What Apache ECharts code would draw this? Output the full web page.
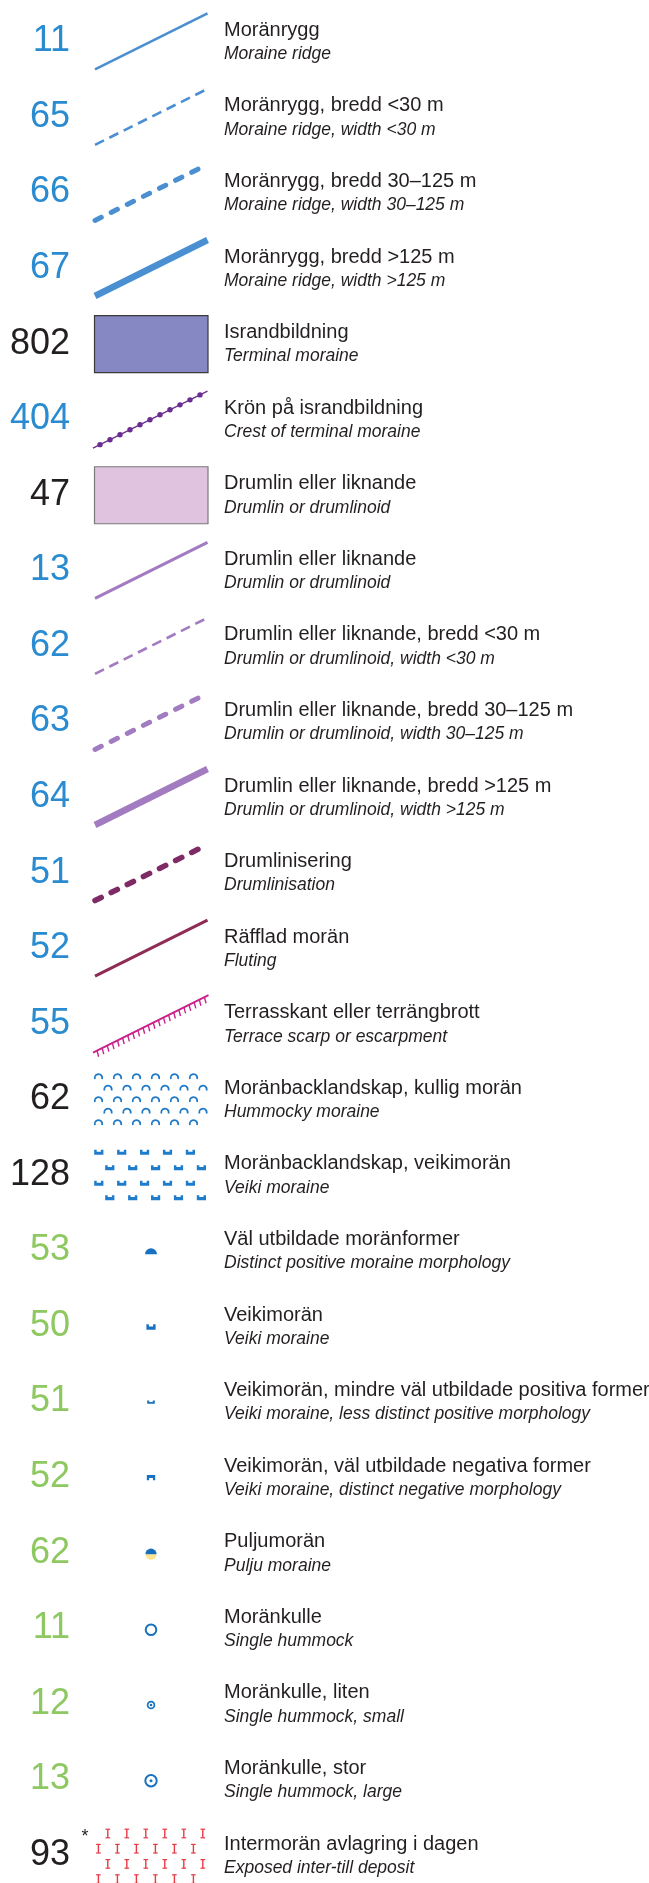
<!DOCTYPE html>
<html>
<head>
<meta charset="utf-8">
<script src="https://cdn.jsdelivr.net/npm/echarts@6/dist/echarts.min.js"></script>
<style>
html,body{margin:0;padding:0;background:#fff;}
#chart{width:649px;height:1883px;}
</style>
</head>
<body>
<div id="chart"></div>
<script>
// ---- legend data ----
const codes = ['11','65','66','67','802','404','47','13','62','63','64','51','52','55','62','128','53','50','51','52','62','11','12','13','93'];
const kinds = ['line','line','line','line','area','line','area','line','line','line','line','line','line','line','area','area','point','point','point','point','point','point','point','point','area'];
const namesSv = ['Moränrygg','Moränrygg, bredd <30 m','Moränrygg, bredd 30–125 m','Moränrygg, bredd >125 m','Israndbildning','Krön på israndbildning','Drumlin eller liknande','Drumlin eller liknande','Drumlin eller liknande, bredd <30 m','Drumlin eller liknande, bredd 30–125 m','Drumlin eller liknande, bredd >125 m','Drumlinisering','Räfflad morän','Terrasskant eller terrängbrott','Moränbacklandskap, kullig morän','Moränbacklandskap, veikimorän','Väl utbildade moränformer','Veikimorän','Veikimorän, mindre väl utbildade positiva former','Veikimorän, väl utbildade negativa former','Puljumorän','Moränkulle','Moränkulle, liten','Moränkulle, stor','Intermorän avlagring i dagen'];
const namesEn = ['Moraine ridge','Moraine ridge, width <30 m','Moraine ridge, width 30–125 m','Moraine ridge, width >125 m','Terminal moraine','Crest of terminal moraine','Drumlin or drumlinoid','Drumlin or drumlinoid','Drumlin or drumlinoid, width <30 m','Drumlin or drumlinoid, width 30–125 m','Drumlin or drumlinoid, width >125 m','Drumlinisation','Fluting','Terrace scarp or escarpment','Hummocky moraine','Veiki moraine','Distinct positive moraine morphology','Veiki moraine','Veiki moraine, less distinct positive morphology','Veiki moraine, distinct negative morphology','Pulju moraine','Single hummock','Single hummock, small','Single hummock, large','Exposed inter-till deposit'];
const symbols = ['ridge','ridgeNarrow','ridgeMedium','ridgeWide','terminalArea','crest','drumlinArea','drumlin','drumlinNarrow','drumlinMedium','drumlinWide','drumlinisation','fluting','terrace','hummocky','veikiField','positive','veiki','veikiLess','veikiNegative','pulju','hummock','hummockSmall','hummockLarge','interTill'];

// ---- styling ----
const TEXT = '#231f20';
const kindColor = {line:'#2a8bd0', area:'#231f20', point:'#8dc860'};
const BLUE_L = '#4b8fd3', PURPLE = '#a27bc0', SYMBLUE = '#1872c0';
const lineStyles = {
  ridge:{stroke:BLUE_L, w:2.6},
  ridgeNarrow:{stroke:BLUE_L, w:2.6, dash:[10,6]},
  ridgeMedium:{stroke:BLUE_L, w:5, dash:[7,11], cap:'round'},
  ridgeWide:{stroke:BLUE_L, w:6.5},
  drumlin:{stroke:PURPLE, w:3},
  drumlinNarrow:{stroke:PURPLE, w:2.6, dash:[10,6]},
  drumlinMedium:{stroke:PURPLE, w:5, dash:[7,11], cap:'round'},
  drumlinWide:{stroke:PURPLE, w:6.5},
  drumlinisation:{stroke:'#7e2a64', w:5.5, dash:[7,11], cap:'round'},
  fluting:{stroke:'#8e2c55', w:3}
};
const FONT = '"Liberation Sans", Arial, Helvetica, sans-serif';
const NUM_RIGHT = 70, SYM_L = 95, SYM_R = 207.5, SYM_C = 151, TXT_L = 224, HALF = 28;

function renderItem(params, api) {
  const i = api.value(1);
  const yc = api.coord([0, i])[1];
  const X = x => api.coord([x, i])[0];
  const L = X(SYM_L), R = X(SYM_R), C = X(SYM_C);
  const ch = [];
  ch.push({type:'text', style:{text:codes[i], x:X(NUM_RIGHT), y:yc, align:'right', textAlign:'right', verticalAlign:'middle', textVerticalAlign:'middle', font:'36px ' + FONT, fill:kindColor[kinds[i]]}});
  ch.push({type:'text', style:{text:namesSv[i], x:X(TXT_L), y:yc-11, align:'left', textAlign:'left', verticalAlign:'middle', textVerticalAlign:'middle', font:'20px ' + FONT, fill:TEXT}});
  ch.push({type:'text', style:{text:namesEn[i], x:X(TXT_L), y:yc+13, align:'left', textAlign:'left', verticalAlign:'middle', textVerticalAlign:'middle', font:'italic 17.5px ' + FONT, fill:TEXT}});

  const s = symbols[i];
  const seg = {x1:L, y1:yc+HALF, x2:R, y2:yc-HALF};
  const along = t => [L + (R-L)*t, yc+HALF - 2*HALF*t];
  if (lineStyles[s]) {
    const ls = lineStyles[s];
    ch.push({type:'line', shape:seg, style:{stroke:ls.stroke, lineWidth:ls.w, lineDash:ls.dash||null, lineCap:ls.cap||'butt', fill:null}});
  } else if (s === 'terminalArea' || s === 'drumlinArea') {
    ch.push({type:'rect', shape:{x:L-0.5, y:yc-28, width:R-L+1, height:57}, style:{fill: s==='terminalArea' ? '#8688c3' : '#dfc3df', stroke: s==='terminalArea' ? '#3a3a3a' : '#7a7a7a', lineWidth:1.2}});
  } else if (s === 'crest') {
    const col = '#6b2d90';
    ch.push({type:'line', shape:{x1:L-2, y1:yc+HALF+1, x2:R, y2:yc-HALF}, style:{stroke:col, lineWidth:1.3}});
    for (let k = 0; k <= 10; k++) {
      const p = along((5 + 10*k)/(SYM_R-SYM_L));
      ch.push({type:'circle', shape:{cx:p[0], cy:p[1], r:2.7}, style:{fill:col}});
    }
  } else if (s === 'terrace') {
    const col = '#c9228c';
    ch.push({type:'line', shape:{x1:L-2, y1:yc+HALF+1, x2:R+1, y2:yc-HALF-0.5}, style:{stroke:col, lineWidth:2}});
    const len = Math.hypot(R-L, 2*HALF);
    const nx = (2*HALF)/len*0.6, ny = 1;
    const n = 22;
    for (let k = 0; k < n; k++) {
      const p = along((k + 0.4)/n);
      ch.push({type:'line', shape:{x1:p[0], y1:p[1], x2:p[0]+nx*6, y2:p[1]+ny*6}, style:{stroke:col, lineWidth:1.4}});
    }
  } else if (s === 'hummocky') {
    const col = '#2079c7';
    const dys = [-23, -11.5, 0, 11.5, 23];
    dys.forEach((dy, r) => {
      const x0 = r % 2 === 0 ? 98.5 : 108;
      for (let k = 0; k < 6; k++) {
        ch.push({type:'arc', shape:{cx:X(x0 + 19*k), cy:yc+dy+1.5, r:3.7, startAngle:Math.PI*0.9, endAngle:Math.PI*2.1}, style:{stroke:col, lineWidth:1.8, fill:null}});
      }
    });
  } else if (s === 'veikiField') {
    const dys = [-22.6, -7.2, 8.4, 22.8];
    dys.forEach((dy, r) => {
      const x0 = r % 2 === 0 ? 98.8 : 109.8;
      for (let k = 0; k < 5; k++) {
        ch.push(veikiShape(X(x0 + 22.9*k), yc+dy, 9.2, 5, false, '#1f7ccb', 0.62));
      }
    });
  } else if (s === 'positive') {
    ch.push({type:'sector', shape:{cx:C, cy:yc+3.8, r0:0, r:6, startAngle:Math.PI, endAngle:2*Math.PI}, style:{fill:SYMBLUE}});
  } else if (s === 'veiki') {
    ch.push(veikiShape(C, yc+1, 9.2, 5.6, false, SYMBLUE, 0.6));
  } else if (s === 'veikiLess') {
    ch.push(veikiShape(C, yc+0.5, 7.6, 3.2, false, SYMBLUE, 0.55));
  } else if (s === 'veikiNegative') {
    ch.push(veikiShape(C, yc+0.5, 8.4, 5.4, true, SYMBLUE, 0.55));
  } else if (s === 'pulju') {
    ch.push({type:'sector', shape:{cx:C, cy:yc+1.5, r0:0, r:5.6, startAngle:0, endAngle:Math.PI}, style:{fill:'#fbe68f'}});
    ch.push({type:'sector', shape:{cx:C, cy:yc+1.5, r0:0, r:5.6, startAngle:Math.PI, endAngle:2*Math.PI}, style:{fill:'#176fbb'}});
  } else if (s === 'hummock') {
    ch.push({type:'circle', shape:{cx:C, cy:yc+1.5, r:5.3}, style:{fill:null, stroke:SYMBLUE, lineWidth:2}});
  } else if (s === 'hummockSmall') {
    ch.push({type:'circle', shape:{cx:C, cy:yc+1.2, r:3.4}, style:{fill:null, stroke:SYMBLUE, lineWidth:1.7}});
    ch.push({type:'circle', shape:{cx:C, cy:yc+1.2, r:1.3}, style:{fill:SYMBLUE}});
  } else if (s === 'hummockLarge') {
    ch.push({type:'circle', shape:{cx:C, cy:yc+1.3, r:5.7}, style:{fill:null, stroke:SYMBLUE, lineWidth:2}});
    ch.push({type:'circle', shape:{cx:C, cy:yc+1.3, r:1.5}, style:{fill:SYMBLUE}});
  } else if (s === 'interTill') {
    const col = '#e63a44';
    const dys = [-21.5, -6.3, 8.9, 24.1];
    dys.forEach((dy, r) => {
      const x0 = r % 2 === 0 ? 107.8 : 98.4;
      for (let k = 0; k < 6; k++) {
        const cx = X(x0 + 19*k), cy = yc + dy;
        ch.push({type:'polyline', shape:{points:[[cx, cy-4.3],[cx, cy+4.3]]}, style:{stroke:col, lineWidth:1.4, fill:null}});
        ch.push({type:'polyline', shape:{points:[[cx-2.3, cy-4.3],[cx+2.3, cy-4.3]]}, style:{stroke:col, lineWidth:1.2, fill:null}});
        ch.push({type:'polyline', shape:{points:[[cx-2.3, cy+4.3],[cx+2.3, cy+4.3]]}, style:{stroke:col, lineWidth:1.2, fill:null}});
      }
    });
    ch.push({type:'text', style:{text:'*', x:X(85), y:yc-18, align:'center', textAlign:'center', verticalAlign:'middle', textVerticalAlign:'middle', font:'18px ' + FONT, fill:TEXT}});
  }
  return {type:'group', children:ch};
}

function veikiShape(cx, cy, w, h, inverted, color, barFrac) {
  const e = w*0.27, b = h*barFrac, sgn = inverted ? -1 : 1;
  const pts = [[-w/2, h/2],[w/2, h/2],[w/2, -h/2],[w/2-e, -h/2],[w/2-e, h/2-b],[-w/2+e, h/2-b],[-w/2+e, -h/2],[-w/2, -h/2]]
    .map(p => [cx + p[0], cy + sgn*p[1]]);
  return {type:'polygon', shape:{points:pts}, style:{fill:color}};
}

const chart = echarts.init(document.getElementById('chart'), null, {renderer:'canvas'});
chart.setOption({
  backgroundColor:'#ffffff',
  animation:false,
  grid:{left:0, top:41.3, width:649, height:1813.7, containLabel:false},
  xAxis:{type:'value', min:0, max:649, show:false},
  yAxis:{type:'value', min:0, max:24, inverse:true, show:false},
  series:[{
    type:'custom',
    renderItem: renderItem,
    clip:false,
    encode:{x:0, y:1},
    data: codes.map((c, i) => [0, i])
  }]
});
</script>
</body>
</html>
